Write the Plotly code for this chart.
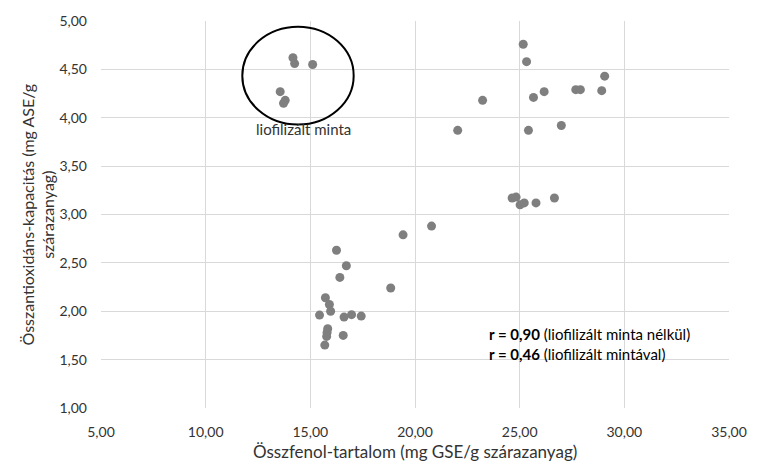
import plotly.graph_objects as go

# Liofilizált minta (circled group)
x_liof = [14.17, 14.25, 15.11, 13.56, 13.80, 13.72]
y_liof = [4.62, 4.56, 4.55, 4.27, 4.18, 4.15]

# Other samples
x_other = [25.17, 25.33, 29.06, 23.23, 25.66, 26.17, 27.68, 27.90, 28.92,
           22.04, 25.42, 26.99, 24.64, 24.83, 25.02, 25.22, 25.78, 26.66,
           20.79, 19.43, 16.25, 16.72, 16.41, 18.84, 15.72, 15.91, 15.97,
           15.44, 16.61, 16.97, 17.43, 15.83, 15.80, 15.78, 16.57, 15.69]
y_other = [4.76, 4.58, 4.43, 4.18, 4.21, 4.27, 4.29, 4.29, 4.28,
           3.87, 3.87, 3.92, 3.17, 3.18, 3.10, 3.12, 3.12, 3.17,
           2.88, 2.79, 2.63, 2.47, 2.35, 2.24, 2.14, 2.07, 2.00,
           1.96, 1.94, 1.965, 1.95, 1.82, 1.78, 1.74, 1.75, 1.65]

x_ticks = [5, 10, 15, 20, 25, 30, 35]
x_ticktext = ["5,00", "10,00", "15,00", "20,00", "25,00", "30,00", "35,00"]
y_ticks = [1, 1.5, 2, 2.5, 3, 3.5, 4, 4.5, 5]
y_ticktext = ["1,00", "1,50", "2,00", "2,50", "3,00", "3,50", "4,00", "4,50", "5,00"]

FONT = "Lato"
GRAY = "#7f7f7f"
TXT = "#333333"

fig = go.Figure()
for xs, ys in [(x_liof, y_liof), (x_other, y_other)]:
    fig.add_trace(go.Scatter(x=xs, y=ys, mode="markers",
                             marker=dict(color=GRAY, size=9),
                             showlegend=False, hoverinfo="x+y"))

fig.add_shape(type="circle", xref="x", yref="y",
              x0=11.75, x1=17.07, y0=3.93, y1=4.94,
              line=dict(color="black", width=2))

fig.add_annotation(x=14.66, y=3.887, xref="x", yref="y", text="liofilizált minta",
                   showarrow=False, font=dict(family=FONT, size=15, color=TXT),
                   xanchor="center", yanchor="middle")

fig.add_annotation(x=23.45, y=1.66, xref="x", yref="y",
                   text="<b>r = 0,90</b> (liofilizált minta nélkül)<br><b>r = 0,46</b> (liofilizált mintával)",
                   showarrow=False, align="left", xanchor="left", yanchor="middle",
                   font=dict(family=FONT, size=15, color="black"))

# Axis titles (placed in paper coordinates)
fig.add_annotation(x=(36 - 101) / 638, y=0.5, xref="paper", yref="paper",
                   text="Összantioxidáns-kapacitás (mg ASE/g<br>szárazanyag)",
                   textangle=-90, showarrow=False, xanchor="center", yanchor="middle",
                   align="center", font=dict(family=FONT, size=16, color=TXT))

fig.add_annotation(x=0.5, y=(408 - 452) / 389, xref="paper", yref="paper",
                   text="Összfenol-tartalom (mg GSE/g szárazanyag)",
                   showarrow=False, xanchor="center", yanchor="middle",
                   font=dict(family=FONT, size=17, color=TXT))

fig.update_layout(
    width=759, height=464,
    margin=dict(l=101, r=20, t=19, b=56),
    paper_bgcolor="white", plot_bgcolor="white",
    font=dict(family=FONT, color=TXT),
    xaxis=dict(range=[5, 35], tickvals=x_ticks, ticktext=x_ticktext,
               showgrid=True, gridcolor="#d9d9d9", gridwidth=1, zeroline=False,
               showline=False, tickfont=dict(size=14, family=FONT, color=TXT),
               ticklabelstandoff=14),
    yaxis=dict(range=[1, 5], tickvals=y_ticks, ticktext=y_ticktext,
               showgrid=True, gridcolor="#d9d9d9", gridwidth=1, zeroline=False,
               showline=False, tickfont=dict(size=14, family=FONT, color=TXT),
               ticklabelstandoff=13),
)

fig.write_html("out.html", config={"displayModeBar": False},
               post_script="document.body.style.margin='0';document.body.style.overflow='hidden';")
